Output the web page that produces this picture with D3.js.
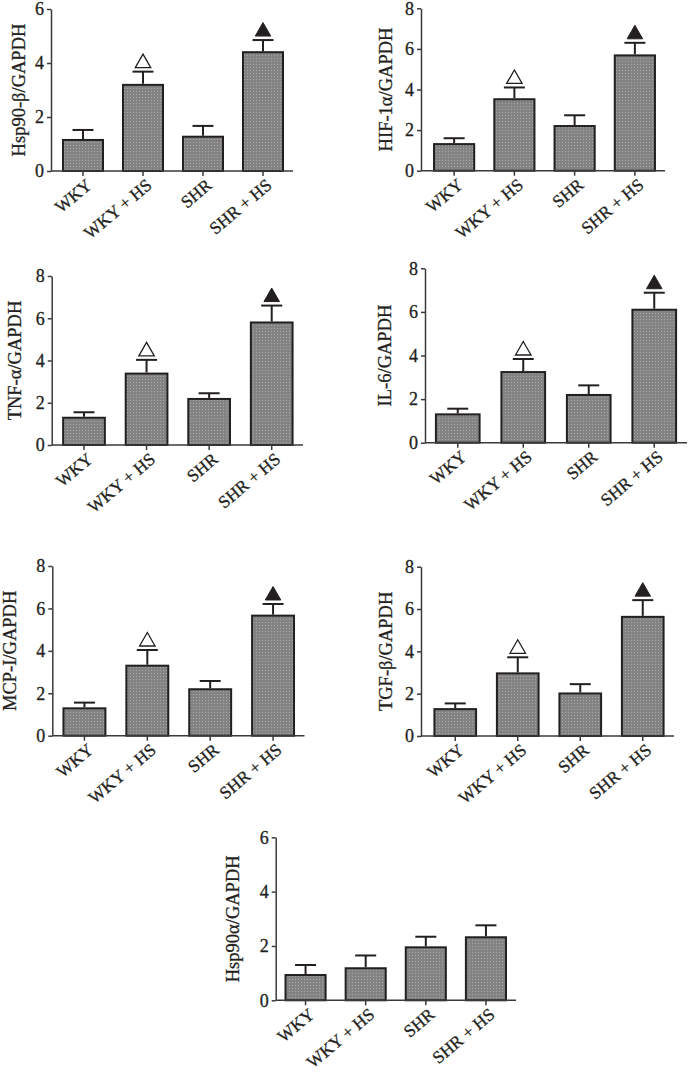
<!DOCTYPE html>
<html>
<head>
<meta charset="utf-8">
<script src="https://cdn.jsdelivr.net/npm/d3@7"></script>
<style>
  html, body { margin: 0; padding: 0; background: #fff; }
  svg { display: block; }
  text { font-family: "Liberation Serif", "Times New Roman", serif; fill: #231f20; stroke: #231f20; stroke-width: 0.3px; }
</style>
</head>
<body>
<svg id="chart" width="690" height="1077"></svg>
<script>
// ---------- data ----------
const categories = ["WKY", "WKY + HS", "SHR", "SHR + HS"];

const hsp90bMean = [1.15, 3.19, 1.27, 4.40];
const hsp90bErr  = [0.37, 0.49, 0.40, 0.45];

const hif1aMean = [1.31, 3.52, 2.20, 5.68];
const hif1aErr  = [0.29, 0.58, 0.53, 0.62];

const tnfaMean = [1.29, 3.38, 2.18, 5.80];
const tnfaErr  = [0.26, 0.65, 0.27, 0.80];

const il6Mean = [1.30, 3.24, 2.19, 6.10];
const il6Err  = [0.26, 0.60, 0.44, 0.78];

const mcp1Mean = [1.29, 3.30, 2.19, 5.66];
const mcp1Err  = [0.27, 0.74, 0.39, 0.55];

const tgfbMean = [1.27, 2.96, 2.01, 5.63];
const tgfbErr  = [0.27, 0.76, 0.44, 0.79];

const hsp90aMean = [0.93, 1.18, 1.95, 2.32];
const hsp90aErr  = [0.37, 0.47, 0.39, 0.44];

const sigMarkers = [null, "open", null, "filled"];
const noMarkers  = [null, null, null, null];

const ticks6 = [0, 2, 4, 6];
const ticks8 = [0, 2, 4, 6, 8];

// ---------- layout (positions only) ----------
const panels = [
  { title: "Hsp90-β/GAPDH", mean: hsp90bMean, err: hsp90bErr, marks: sigMarkers, ticks: ticks6,
    ax: 51, y0: 171, yTop: 9, xr: [53, 293], titleX: 19 },
  { title: "HIF-1α/GAPDH", mean: hif1aMean, err: hif1aErr, marks: sigMarkers, ticks: ticks8,
    ax: 421, y0: 170.7, yTop: 8.3, xr: [424, 665], titleX: 386 },
  { title: "TNF-α/GAPDH", mean: tnfaMean, err: tnfaErr, marks: sigMarkers, ticks: ticks8,
    ax: 51.7, y0: 445, yTop: 276, xr: [52.7, 303], titleX: 15 },
  { title: "IL-6/GAPDH", mean: il6Mean, err: il6Err, marks: sigMarkers, ticks: ticks8,
    ax: 425, y0: 442.7, yTop: 268.3, xr: [425, 687], titleX: 385 },
  { title: "MCP-I/GAPDH", mean: mcp1Mean, err: mcp1Err, marks: sigMarkers, ticks: ticks8,
    ax: 52.3, y0: 735.7, yTop: 566, xr: [53, 304.5], titleX: 10 },
  { title: "TGF-β/GAPDH", mean: tgfbMean, err: tgfbErr, marks: sigMarkers, ticks: ticks8,
    ax: 421, y0: 736, yTop: 566.7, xr: [424, 674], titleX: 386 },
  { title: "Hsp90α/GAPDH", mean: hsp90aMean, err: hsp90aErr, marks: noMarkers, ticks: ticks6,
    ax: 275.7, y0: 1000.3, yTop: 837.3, xr: [275.5, 516], titleX: 233 }
];

const svg = d3.select("#chart");
svg.append("rect").attr("width", 690).attr("height", 1077).attr("fill", "#fff");

// stipple pattern for bars
const defs = svg.append("defs");
const pat = defs.append("pattern").attr("id", "stipple")
  .attr("patternUnits", "userSpaceOnUse").attr("width", 3).attr("height", 3);
pat.append("rect").attr("width", 3).attr("height", 3).attr("fill", "#838383");
pat.append("rect").attr("x", 1).attr("y", 1).attr("width", 1).attr("height", 1).attr("fill", "#a8a8a8");

const ink = "#231f20";

panels.forEach(p => {
  const g = svg.append("g");
  const yMax = d3.max(p.ticks);
  const y = d3.scaleLinear().domain([0, yMax]).range([p.y0, p.yTop]);
  const x = d3.scaleBand().domain(categories).range(p.xr).paddingInner(1/3).paddingOuter(1/6);
  const bw = x.bandwidth();

  // bars
  g.selectAll("rect.bar").data(categories).enter().append("rect")
    .attr("class", "bar")
    .attr("x", d => x(d))
    .attr("y", (d, i) => y(p.mean[i]))
    .attr("width", bw)
    .attr("height", (d, i) => y(0) - y(p.mean[i]))
    .attr("fill", "url(#stipple)")
    .attr("stroke", ink).attr("stroke-width", 2);

  // error bars (upper only)
  const capHalf = 10.5;
  categories.forEach((c, i) => {
    const cx = x(c) + bw / 2;
    const top = y(p.mean[i] + p.err[i]);
    g.append("line").attr("x1", cx).attr("x2", cx)
      .attr("y1", y(p.mean[i]) - 1).attr("y2", top)
      .attr("stroke", ink).attr("stroke-width", 2);
    g.append("line").attr("x1", cx - capHalf).attr("x2", cx + capHalf)
      .attr("y1", top).attr("y2", top)
      .attr("stroke", ink).attr("stroke-width", 2);
    const m = p.marks[i];
    if (m) {
      const base = top - 4, h = 13.5, w = 15.5;
      g.append("path")
        .attr("d", `M${cx - w/2},${base} L${cx + w/2},${base} L${cx},${base - h} Z`)
        .attr("fill", m === "filled" ? ink : "#fff")
        .attr("stroke", ink).attr("stroke-width", m === "filled" ? 1 : 1.3)
        .attr("stroke-linejoin", "miter");
    }
  });

  // y axis
  const yAxis = d3.axisLeft(y).tickValues(p.ticks).tickFormat(d3.format("d"))
    .tickSize(4).tickSizeOuter(0).tickPadding(3);
  const yg = g.append("g").attr("transform", `translate(${p.ax},0)`).call(yAxis);
  yg.select(".domain").attr("stroke", "#3a3a3a").attr("stroke-width", 1.5);
  yg.selectAll(".tick line").attr("stroke", "#3a3a3a").attr("stroke-width", 1.5);
  yg.selectAll(".tick text").attr("font-size", 18)
    .style("font-family", "'Liberation Serif', serif").attr("fill", ink);

  // x axis
  const xAxis = d3.axisBottom(x).tickSize(5).tickSizeOuter(0).tickFormat(d => d);
  const xg = g.append("g").attr("transform", `translate(0,${p.y0})`).call(xAxis);
  xg.select(".domain").remove();
  xg.append("line").attr("x1", p.ax).attr("x2", p.xr[1]).attr("y1", 0).attr("y2", 0)
    .attr("stroke", "#3a3a3a").attr("stroke-width", 1.5);
  xg.selectAll(".tick line").attr("stroke", "#3a3a3a").attr("stroke-width", 1.5);
  xg.selectAll(".tick text")
    .attr("font-size", 17.5)
    .style("font-family", "'Liberation Serif', serif")
    .attr("fill", ink)
    .attr("text-anchor", "end")
    .attr("y", 0).attr("dy", 0)
    .attr("transform", "translate(10,16) rotate(-40)");

  // y title
  g.append("text")
    .attr("transform", `translate(${p.titleX},${(p.y0 + p.yTop) / 2}) rotate(-90)`)
    .attr("text-anchor", "middle")
    .attr("dy", "0.35em")
    .attr("font-size", 18.5)
    .text(p.title);
});
</script>
</body>
</html>
